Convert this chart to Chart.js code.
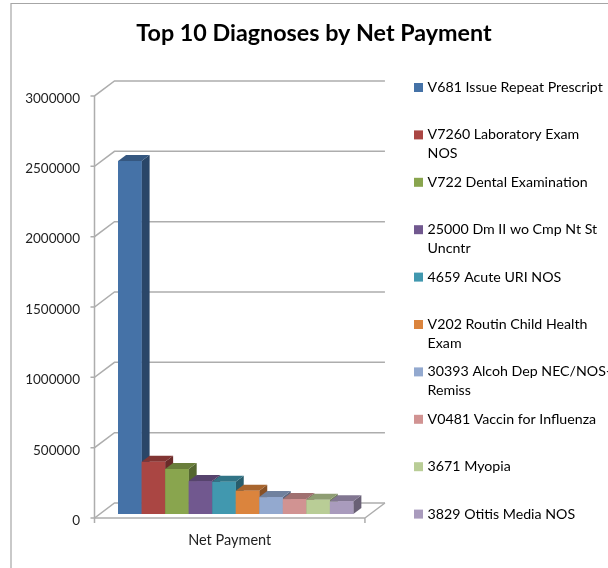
<!DOCTYPE html>
<html>
<head>
<meta charset="utf-8">
<title>Top 10 Diagnoses by Net Payment</title>
<script src="https://cdn.jsdelivr.net/npm/chart.js@4"></script>
<style>
    html, body { margin: 0; padding: 0; background: #fff; }
    #wrap { position: relative; width: 608px; height: 568px; }
</style>
</head>
<body>
<div id="wrap"><canvas id="diagChart" width="608" height="568"></canvas></div>
<script>
const categories = ["Net Payment"];
const diagnoses = [
    ["V681 Issue Repeat Prescript", ""],
    ["V7260 Laboratory Exam", "NOS"],
    ["V722 Dental Examination", ""],
    ["25000 Dm II wo Cmp Nt St", "Uncntr"],
    ["4659 Acute URI NOS", ""],
    ["V202 Routin Child Health", "Exam"],
    ["30393 Alcoh Dep NEC/NOS-", "Remiss"],
    ["V0481 Vaccin for Influenza", ""],
    ["3671 Myopia", ""],
    ["3829 Otitis Media NOS", ""]
];
const netPayment = [2509000, 371000, 320000, 234000, 229000, 165000, 120000, 106000, 101000, 90000];
const frontColors = ["#4572A7", "#AA4643", "#89A54E", "#71588F", "#4198AF", "#DB843D", "#93A9CF", "#D19392", "#B9CD96", "#A99BBD"];
const sideColors = ["#2A4668", "#6A2B29", "#546630", "#453658", "#285D6C", "#885126", "#5B6880", "#815B5A", "#72805D", "#696075"];
const topColors = ["#355780", "#823533", "#697E3B", "#56436D", "#317486", "#A8652E", "#70819E", "#A07070", "#8E9D73", "#817691"];
const yTicks = [0, 500000, 1000000, 1500000, 2000000, 2500000, 3000000];

const fontName = "Lato, 'Open Sans', sans-serif";
const wallColor = "#ADADAD";
const textColor = "#1f1f1f";

// bars sit on the middle plane of the 3D box, walls are offset from it
const frontOffset = { x: -6, y: 4 };
const backOffset = { x: 14, y: -11 };
const depth = { x: 8, y: 6 };

const boxPlugin = {
    id: "box3d",
    afterLayout(chart) {
        // move the legend away from the plot, the layout leaves no gap there
        chart.legend.left = 407.1;
        chart.legend.right = 608;
        chart.legend.top = 71;
        // title is centred on the whole frame, not the padded area
        chart.titleBlock.left = 20;
        chart.titleBlock.right = 608;
    },
    beforeDraw(chart) {
        const ctx = chart.ctx;
        ctx.save();
        ctx.fillStyle = "#fff";
        ctx.fillRect(0, 0, chart.width, chart.height);
        // only the left and top of the frame are inside the picture
        ctx.strokeStyle = "#A6A6A6";
        ctx.lineWidth = 1.2;
        ctx.beginPath();
        ctx.moveTo(11, chart.height);
        ctx.lineTo(11, 3.5);
        ctx.lineTo(chart.width, 3.5);
        ctx.stroke();
        ctx.restore();
    },
    beforeDatasetsDraw(chart) {
        const ctx = chart.ctx;
        const { left, right, top, bottom } = chart.chartArea;
        const y = chart.scales.y;
        const fx = left + frontOffset.x, bx = left + backOffset.x;
        const frx = right + frontOffset.x, brx = right + backOffset.x;
        ctx.save();
        ctx.strokeStyle = wallColor;
        ctx.lineWidth = 1.5;
        // wall gridlines with the step back from the axis
        yTicks.forEach(v => {
            const py = y.getPixelForValue(v);
            ctx.beginPath();
            ctx.moveTo(fx - 4, py + frontOffset.y);
            ctx.lineTo(fx, py + frontOffset.y);
            ctx.lineTo(bx, py + backOffset.y);
            ctx.lineTo(brx, py + backOffset.y);
            ctx.stroke();
        });
        // y axis
        ctx.beginPath();
        ctx.moveTo(fx, top + frontOffset.y);
        ctx.lineTo(fx, bottom + frontOffset.y + 5);
        ctx.stroke();
        // floor
        ctx.beginPath();
        ctx.moveTo(fx, bottom + frontOffset.y);
        ctx.lineTo(frx, bottom + frontOffset.y);
        ctx.lineTo(frx, bottom + frontOffset.y + 5);
        ctx.moveTo(frx, bottom + frontOffset.y);
        ctx.lineTo(brx, bottom + backOffset.y);
        ctx.stroke();
        ctx.restore();
    },
    afterDatasetsDraw(chart) {
        const ctx = chart.ctx;
        ctx.save();
        chart.data.datasets.forEach((ds, i) => {
            const bar = chart.getDatasetMeta(i).data[0];
            const r = bar.x + bar.width / 2;
            const l = bar.x - bar.width / 2;
            // side face
            ctx.fillStyle = sideColors[i];
            ctx.beginPath();
            ctx.moveTo(r, bar.y);
            ctx.lineTo(r + depth.x, bar.y - depth.y);
            ctx.lineTo(r + depth.x, bar.base - depth.y);
            ctx.lineTo(r, bar.base);
            ctx.closePath();
            ctx.fill();
            // top face
            ctx.fillStyle = topColors[i];
            ctx.beginPath();
            ctx.moveTo(l, bar.y);
            ctx.lineTo(l + depth.x, bar.y - depth.y);
            ctx.lineTo(r + depth.x, bar.y - depth.y);
            ctx.lineTo(r, bar.y);
            ctx.closePath();
            ctx.fill();
            // front face again so the next bar's depth doesn't cover it
            ctx.fillStyle = frontColors[i];
            ctx.fillRect(l, bar.y, bar.width, bar.base - bar.y);
        });
        ctx.restore();
    }
};

new Chart(document.getElementById("diagChart"), {
    type: "bar",
    data: {
        labels: categories,
        datasets: diagnoses.map((name, i) => ({
            label: name,
            data: [netPayment[i]],
            backgroundColor: frontColors[i],
            borderWidth: 0
        }))
    },
    plugins: [boxPlugin],
    options: {
        responsive: false,
        animation: false,
        layout: { padding: { top: 0, left: 20, right: 23, bottom: 14 } },
        datasets: { bar: { barPercentage: 1, categoryPercentage: 0.87 } },
        scales: {
            x: {
                grid: { display: false },
                border: { display: false },
                afterFit(axis) { axis.height = 40; },
                ticks: { color: textColor, font: { family: fontName, size: 14.5 }, labelOffset: -6, padding: 10 }
            },
            y: {
                min: 0,
                max: 3000000,
                grid: { display: false },
                border: { display: false },
                afterFit(axis) { axis.width = 80.5; },
                afterBuildTicks(axis) { axis.ticks = yTicks.map(v => ({ value: v })); },
                ticks: {
                    color: textColor,
                    font: { family: fontName, size: 13.5 },
                    labelOffset: 6.5,
                    padding: 12.5,
                    callback: value => String(value)
                }
            }
        },
        plugins: {
            title: {
                display: true,
                text: "Top 10 Diagnoses by Net Payment",
                color: "#000",
                font: { family: fontName, size: 23.3, weight: "bold" },
                padding: { top: 19, bottom: 45 }
            },
            legend: {
                position: "right",
                align: "start",
                maxWidth: 238,
                labels: {
                    // small box with a thick stroke gives a 9px swatch with the text close to it
                    boxWidth: 4,
                    boxHeight: 4,
                    padding: 9.4,
                    color: textColor,
                    font: { family: fontName, size: 14.2, lineHeight: "19px" },
                    generateLabels(chart) {
                        return chart.data.datasets.map((ds, i) => ({
                            text: ds.label,
                            fillStyle: frontColors[i],
                            strokeStyle: frontColors[i],
                            lineWidth: 5,
                            datasetIndex: i
                        }));
                    }
                }
            },
            tooltip: { enabled: false }
        }
    }
});
</script>
</body>
</html>
